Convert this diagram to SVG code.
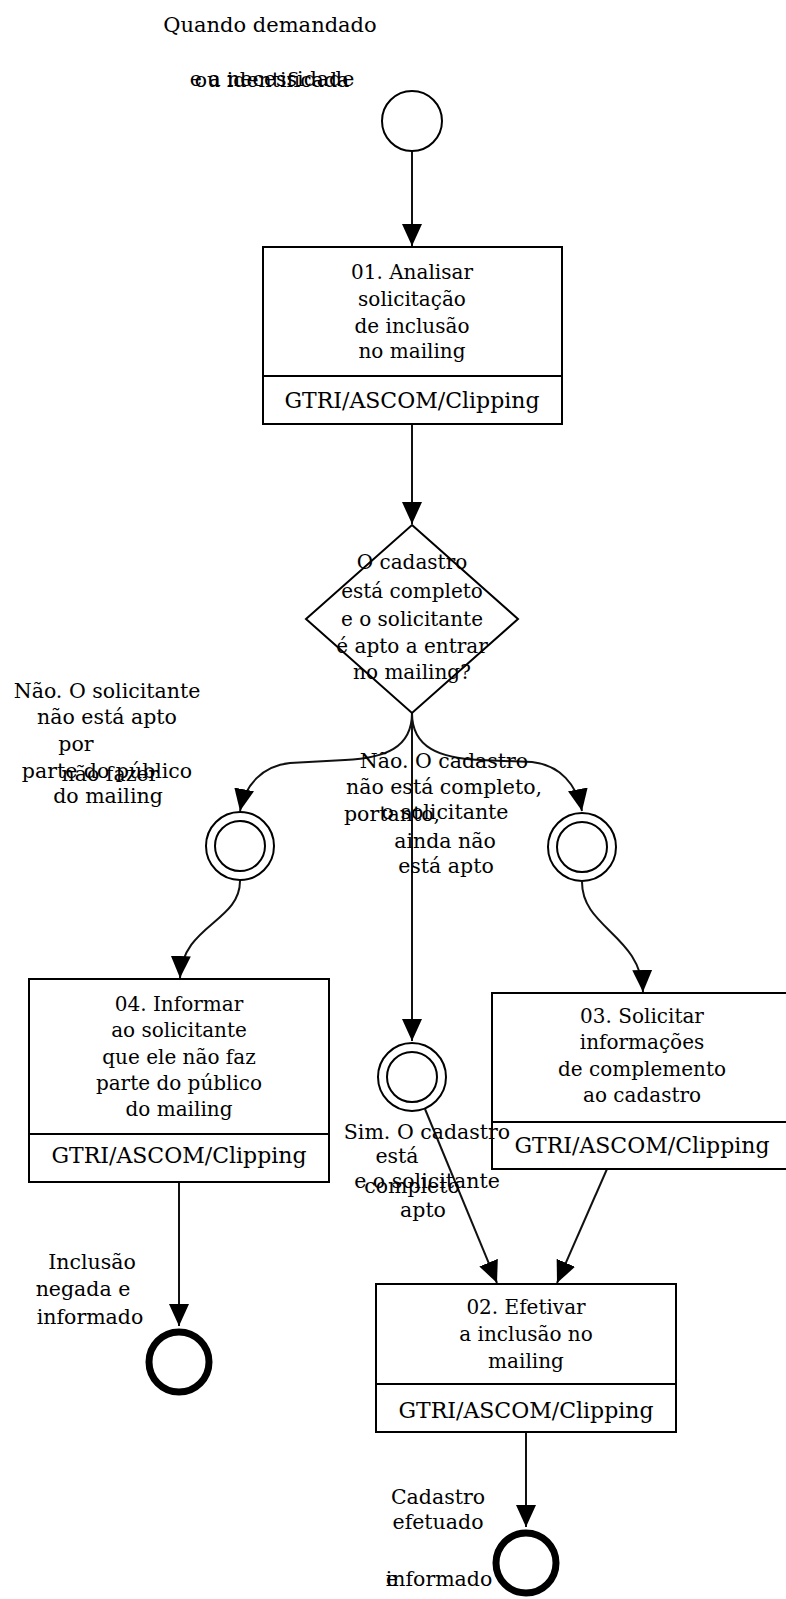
<svg xmlns="http://www.w3.org/2000/svg" width="786" height="1599" viewBox="0 0 786 1599">
<style>
text{font-family:"DejaVu Serif","Liberation Serif",serif;font-size:20px;fill:#000;text-anchor:middle}
.lbl{font-size:20.5px}
.lane{font-size:22px}
.box{fill:#fff;stroke:#000;stroke-width:2}
.ln{fill:none;stroke:#111;stroke-width:2}
.ev{fill:#fff;stroke:#000;stroke-width:2}
.end{fill:#fff;stroke:#000;stroke-width:7}
</style>
<defs>
<marker id="ah" markerUnits="userSpaceOnUse" markerWidth="24" markerHeight="22" refX="22" refY="10" orient="auto">
<path d="M0,0 L22,10 L0,20 z" fill="#000"/>
</marker>
</defs>
<rect width="786" height="1599" fill="#fff"/>
<g id="connectors">
<path class="ln" d="M412,151 L412,246" marker-end="url(#ah)"/>
<path class="ln" d="M412,425 L412,524" marker-end="url(#ah)"/>
<path class="ln" d="M412,713 C412,748 385,758 345,760 L290,763 C262,766 245,785 240,811" marker-end="url(#ah)"/>
<path class="ln" d="M412,713 C412,748 440,758 480,760 L532,762 C560,765 577,785 582,811" marker-end="url(#ah)"/>
<path class="ln" d="M412,713 L412,1041" marker-end="url(#ah)"/>
<path class="ln" d="M240,881 C240,922 182,925 180,978" marker-end="url(#ah)"/>
<path class="ln" d="M582,882 C582,928 641,935 643,992" marker-end="url(#ah)"/>
<path class="ln" d="M425,1109 L497,1283" marker-end="url(#ah)"/>
<path class="ln" d="M607,1169 L557,1283" marker-end="url(#ah)"/>
<path class="ln" d="M179,1182 L179,1326" marker-end="url(#ah)"/>
<path class="ln" d="M526,1432 L526,1527" marker-end="url(#ah)"/>
</g>
<g id="start">
<circle class="ev" cx="412" cy="121" r="30"/>
<text class="lbl" x="270" y="32" style="font-size:21px">Quando demandado</text>
<text class="lbl" x="272" y="86">e a necessidade</text>
<text class="lbl" x="272" y="87">ou identificada</text>
</g>
<g id="task01">
<rect class="box" x="263" y="247" width="299" height="177"/>
<line class="box" x1="263" y1="376" x2="562" y2="376"/>
<text x="412" y="279">01. Analisar</text>
<text x="412" y="306">solicitação</text>
<text x="412" y="333">de inclusão</text>
<text x="412" y="358">no mailing</text>
<text class="lane" x="412" y="408">GTRI/ASCOM/Clipping</text>
</g>
<g id="gateway">
<polygon class="box" points="412,525 518,619 412,713 306,619"/>
<text x="412" y="569">O cadastro</text>
<text x="412" y="598">está completo</text>
<text x="412" y="626">e o solicitante</text>
<text x="412" y="653">é apto a entrar</text>
<text x="412" y="679">no mailing?</text>
</g>
<g id="labels-gateway">
<text class="lbl" x="107" y="698">Não. O solicitante</text>
<text class="lbl" x="107" y="724">não está apto</text>
<text class="lbl" x="76" y="751">por</text>
<text class="lbl" x="107" y="778">parte do público</text>
<text class="lbl" x="110" y="781">não fazer</text>
<text class="lbl" x="108" y="803">do mailing</text>
<text class="lbl" x="444" y="768">Não. O cadastro</text>
<text class="lbl" x="444" y="794">não está completo,</text>
<text class="lbl" x="392" y="821">portanto,</text>
<text class="lbl" x="445" y="819">o solicitante</text>
<text class="lbl" x="445" y="848">ainda não</text>
<text class="lbl" x="446" y="873">está apto</text>
</g>
<g id="event-left">
<circle class="ev" cx="240" cy="846" r="34"/>
<circle class="ev" cx="240" cy="846" r="25"/>
</g>
<g id="event-right">
<circle class="ev" cx="582" cy="847" r="34"/>
<circle class="ev" cx="582" cy="847" r="25"/>
</g>
<g id="event-mid">
<circle class="ev" cx="412" cy="1077" r="34"/>
<circle class="ev" cx="412" cy="1077" r="25"/>
</g>
<g id="task04">
<rect class="box" x="29" y="979" width="300" height="203"/>
<line class="box" x1="29" y1="1134" x2="329" y2="1134"/>
<text x="179" y="1011">04. Informar</text>
<text x="179" y="1037">ao solicitante</text>
<text x="179" y="1064">que ele não faz</text>
<text x="179" y="1090">parte do público</text>
<text x="179" y="1116">do mailing</text>
<text class="lane" x="179" y="1163">GTRI/ASCOM/Clipping</text>
</g>
<g id="task03">
<rect class="box" x="492" y="993" width="300" height="176"/>
<line class="box" x1="492" y1="1122" x2="792" y2="1122"/>
<text x="642" y="1023">03. Solicitar</text>
<text x="642" y="1049">informações</text>
<text x="642" y="1076">de complemento</text>
<text x="642" y="1102">ao cadastro</text>
<text class="lane" x="642" y="1153">GTRI/ASCOM/Clipping</text>
</g>
<g id="labels-mid">
<text class="lbl" x="427" y="1139">Sim. O cadastro</text>
<text class="lbl" x="397" y="1163">está</text>
<text class="lbl" x="427" y="1188">e o solicitante</text>
<text class="lbl" x="412" y="1193">completo</text>
<text class="lbl" x="423" y="1217">apto</text>
</g>
<g id="task02">
<rect class="box" x="376" y="1284" width="300" height="148"/>
<line class="box" x1="376" y1="1384" x2="676" y2="1384"/>
<text x="526" y="1314">02. Efetivar</text>
<text x="526" y="1341">a inclusão no</text>
<text x="526" y="1368">mailing</text>
<text class="lane" x="526" y="1418">GTRI/ASCOM/Clipping</text>
</g>
<g id="end-left">
<circle class="end" cx="179" cy="1362" r="30"/>
<text class="lbl" x="92" y="1269">Inclusão</text>
<text class="lbl" x="83" y="1296">negada e</text>
<text class="lbl" x="90" y="1324">informado</text>
</g>
<g id="end-bottom">
<circle class="end" cx="526" cy="1563" r="30"/>
<text class="lbl" x="438" y="1504">Cadastro</text>
<text class="lbl" x="438" y="1529">efetuado</text>
<text class="lbl" x="392" y="1586">e</text>
<text class="lbl" x="439" y="1586">informado</text>
</g>
</svg>
